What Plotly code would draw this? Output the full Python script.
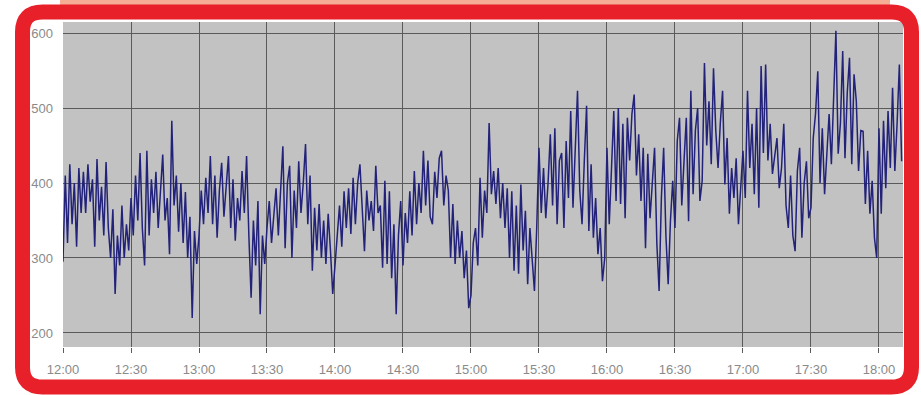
import plotly.graph_objects as go
import pandas as pd

# one value per minute, 12:00 .. 18:10
values = [
    295, 410, 320, 425, 345, 400, 315, 420, 360, 415,
    360, 425, 375, 405, 315, 432, 350, 395, 330, 428,
    340, 300, 365, 252, 330, 290, 370, 300, 345, 310,
    380, 330, 410, 350, 440, 340, 290, 443, 330, 405,
    360, 415, 340, 395, 438, 350, 380, 305, 483, 370,
    410, 335, 400, 320, 388, 300, 355, 220, 336, 292,
    330, 390, 345, 407, 360, 436, 345, 410, 327, 390,
    427, 355, 395, 436, 340, 405, 323, 380, 350, 416,
    360, 436, 330, 247, 350, 290, 376, 225, 330, 292,
    340, 376, 320, 360, 393, 330, 385, 449, 313, 400,
    423, 300, 390, 340, 429, 360, 400, 452, 345, 410,
    283, 367, 310, 372, 300, 350, 292, 359, 310, 252,
    290, 330, 370, 315, 389, 340, 393, 332, 407, 345,
    400, 425, 360, 309, 390, 350, 376, 336, 423, 360,
    370, 287, 403, 292, 389, 273, 345, 225, 330, 376,
    290, 360, 320, 389, 330, 416, 345, 400, 360, 443,
    370, 430, 355, 345, 415, 380, 433, 443, 370, 410,
    390, 300, 372, 292, 350, 300, 336, 273, 310, 233,
    250, 320, 340, 290, 407, 327, 390, 360, 480, 385,
    416, 372, 420, 353, 400, 340, 393, 300, 389, 283,
    370, 279, 398, 310, 363, 265, 340, 300, 256, 340,
    447, 360, 420, 353, 400, 465, 370, 473, 345, 430,
    440, 340, 456, 380, 496, 367, 450, 523, 390, 345,
    430, 503, 336, 425, 327, 380, 305, 340, 269, 300,
    447, 345, 420, 496, 376, 500, 372, 479, 353, 487,
    430, 492, 518, 410, 465, 376, 447, 313, 439, 353,
    400, 447, 319, 256, 380, 447, 330, 265, 350, 403,
    340, 456, 487, 370, 430, 487, 349, 523, 385, 470,
    500, 376, 403, 560, 450, 509, 425, 553, 470, 420,
    480, 523, 398, 460, 359, 420, 380, 433, 345, 400,
    443, 380, 523, 420, 479, 385, 500, 367, 556, 440,
    558, 430, 479, 412, 440, 460, 393, 420, 479, 370,
    340, 410, 330, 309, 416, 447, 327, 400, 429, 353,
    367, 460, 492, 549, 400, 473, 385, 440, 492, 425,
    527, 603, 439, 480, 576, 433, 520, 567, 425, 545,
    509, 416, 470, 469, 372, 443, 359, 403, 327, 300,
    473, 359, 483, 393, 496, 420, 527, 416, 480, 558, 429,
]
times = pd.date_range("2000-01-01 12:00", periods=len(values), freq="1min")

y_ticks = [200, 300, 400, 500, 600]
y_labels = ["200", "300", "400", "500", "600"]

W, H = 921, 395
L, R, T, B = 63, 18, 22, 48
PW, PH = W - L - R, H - T - B


def px(x):
    return (x - L) / PW


def py(y):
    return (H - B - y) / PH


fig = go.Figure()
fig.add_trace(go.Scatter(
    x=times, y=values, mode="lines",
    line=dict(color="#22227a", width=1.5),
    showlegend=False, hoverinfo="skip",
))

# rounded red frame
x0, x1, y0, y1, r = 22.5, 911.5, 12, 387, 20
path = (
    f"M {px(x0 + r)},{py(y0)} L {px(x1 - r)},{py(y0)} "
    f"Q {px(x1)},{py(y0)} {px(x1)},{py(y0 + r)} "
    f"L {px(x1)},{py(y1 - r)} Q {px(x1)},{py(y1)} {px(x1 - r)},{py(y1)} "
    f"L {px(x0 + r)},{py(y1)} Q {px(x0)},{py(y1)} {px(x0)},{py(y1 - r)} "
    f"L {px(x0)},{py(y0 + r)} Q {px(x0)},{py(y0)} {px(x0 + r)},{py(y0)} Z"
)
shapes = [
    dict(type="rect", xref="paper", yref="paper",
         x0=px(60), x1=px(890), y0=py(5), y1=py(0),
         fillcolor="#f6ad95", line=dict(width=0), layer="below"),
    dict(type="path", xref="paper", yref="paper", path=path,
         line=dict(color="#e8202a", width=15), layer="above"),
]

fig.update_layout(
    width=W, height=H,
    margin=dict(l=L, r=R, t=T, b=B),
    paper_bgcolor="white",
    plot_bgcolor="#c2c2c2",
    font=dict(family="Liberation Sans, Arial, sans-serif", size=13, color="#8a8a8a"),
    shapes=shapes,
    xaxis=dict(
        type="date",
        range=[pd.Timestamp("2000-01-01 12:00"), pd.Timestamp("2000-01-01 18:10:36")],
        dtick=30 * 60 * 1000,
        tick0=pd.Timestamp("2000-01-01 12:00"),
        tickformat="%H:%M",
        showgrid=True, gridcolor="#5a5a5a", gridwidth=1,
        ticks="outside", ticklen=5, tickcolor="#5a5a5a",
        ticklabelstandoff=5,
        showline=False, zeroline=False,
    ),
    yaxis=dict(
        range=[181.3, 614.7],
        tickvals=y_ticks, ticktext=y_labels,
        showgrid=True, gridcolor="#5a5a5a", gridwidth=1,
        ticks="", ticklabelstandoff=9,
        showline=False, zeroline=False,
    ),
)

fig.write_html(
    "out.html",
    config={"displayModeBar": False},
    post_script="document.body.style.margin='0';document.body.style.overflow='hidden';",
)
